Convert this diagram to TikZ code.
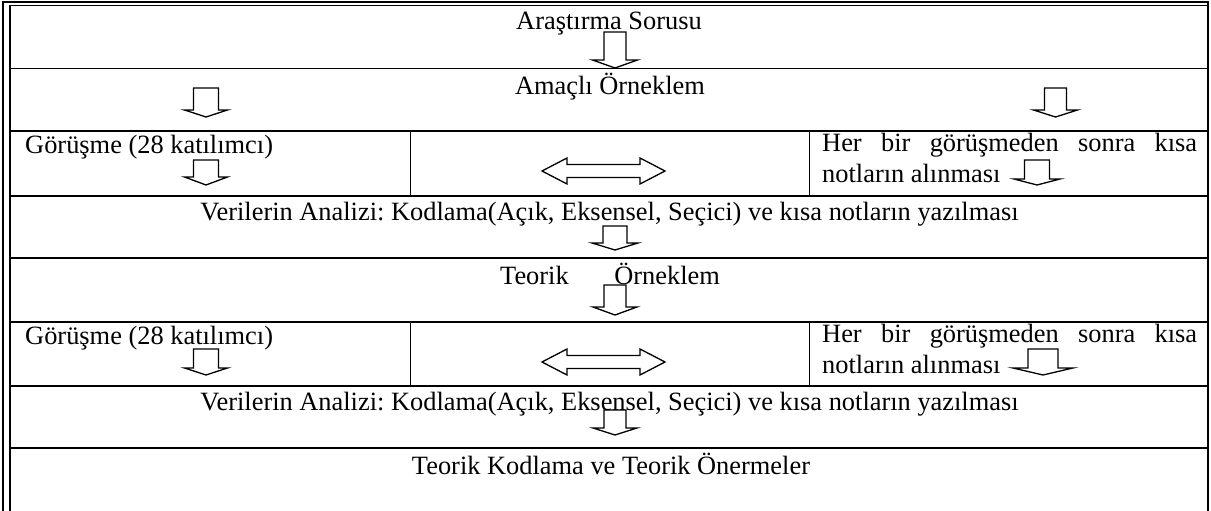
\documentclass[tikz,border=0pt]{standalone}
\usepackage{fontspec}
\setmainfont{Liberation Serif}
\frenchspacing

% hollow block arrow pointing down: centre x, top y, shaft width, head width, head base y, tip y
\newcommand\dblk[6]{%
  \draw[blk] ({#1-#3/2},#2) -- ({#1+#3/2},#2) -- ({#1+#3/2},#5) -- ({#1+#4/2},#5)
    -- (#1,#6) -- ({#1-#4/2},#5) -- ({#1-#3/2},#5) -- cycle;}
% hollow two-headed horizontal block arrow centred on height #1
\newcommand\hblk[1]{%
  \draw[blk] (542,#1) -- (567,{#1-13}) -- (567,{#1-6.5}) -- (640,{#1-6.5}) -- (640,{#1-13})
    -- (665,#1) -- (640,{#1+13}) -- (640,{#1+6.5}) -- (567,{#1+6.5}) -- (567,{#1+13}) -- cycle;}

\tikzset{
  lbl/.style={font=\fontsize{26.4}{30}\selectfont\frenchspacing, inner sep=0pt, anchor=base},
  lblw/.style={lbl, anchor=base west},
  rowline/.style={line width=1.5pt},
  frame/.style={line width=2pt},
  blk/.style={line width=1.3pt, line join=miter}
}

\begin{document}
\begin{tikzpicture}[x=1pt,y=-1pt]
\useasboundingbox (0,0) rectangle (1211,511);

% outer frame: double rule on top and left
\draw[frame] (1.5,2.5) -- (1208.5,2.5);
\draw[line width=1.3pt] (10,5.5) -- (1207,5.5);
\draw[frame] (2.5,2) -- (2.5,511);
\draw[line width=1.8pt] (10,5.5) -- (10,511);
\draw[frame] (1207.5,2) -- (1207.5,511);

% row separators
\foreach \yy in {68.5,131,196,258,322,386,448}
  \draw[rowline] (10,\yy) -- (1207,\yy);

% column separators of the two interview rows
\foreach \yy/\zz in {131/196,322/386} {
  \draw[rowline] (410.5,\yy) -- (410.5,\zz);
  \draw[rowline] (809.5,\yy) -- (809.5,\zz);
}

% texts
\node[lbl]  (q)   at (609,30)    {Araştırma Sorusu};
\node[lbl]  (ao)  at (610,95)    {Amaçlı Örneklem};
\node[lblw] (g1)  at (25,153)    {Görüşme (28 katılımcı)};
\node[lblw] (h1a) at (822,151)   {\makebox[375pt][s]{Her bir görüşmeden sonra kısa}};
\node[lblw] (h1b) at (822,182)   {notların alınması};
\node[lbl]  (v1)  at (609.5,220.5) {Verilerin Analizi: Kodlama(Açık, Eksensel, Seçici) ve kısa notların yazılması};
\node[lblw] (to)  at (500,284)   {Teorik\hspace{45.6pt}Örneklem};
\node[lblw] (g2)  at (25,344)    {Görüşme (28 katılımcı)};
\node[lblw] (h2a) at (822,342)   {\makebox[375pt][s]{Her bir görüşmeden sonra kısa}};
\node[lblw] (h2b) at (822,373)   {notların alınması};
\node[lbl]  (v2)  at (609.5,410.5) {Verilerin Analizi: Kodlama(Açık, Eksensel, Seçici) ve kısa notların yazılması};
\node[lbl]  (tk)  at (611,474)   {Teorik Kodlama ve Teorik Önermeler};

% down block arrows
\dblk{615}{32}{22}{45}{60}{68}
\dblk{206}{88}{25}{43}{110}{117}
\dblk{1055.5}{88}{22}{44}{110}{117}
\dblk{206}{160}{25}{43}{177}{185}
\dblk{1037}{160}{25}{46}{179}{185}
\dblk{615}{226}{24}{46}{243}{250}
\dblk{615}{285}{22}{44}{307}{315}
\dblk{206}{349}{25}{43}{368}{375}
\dblk{1043}{349}{30}{60}{368}{375}
\dblk{615}{410}{22}{44}{428}{435}

% two-headed arrows between interview and notes
\hblk{171}
\hblk{362}
\end{tikzpicture}
\end{document}
